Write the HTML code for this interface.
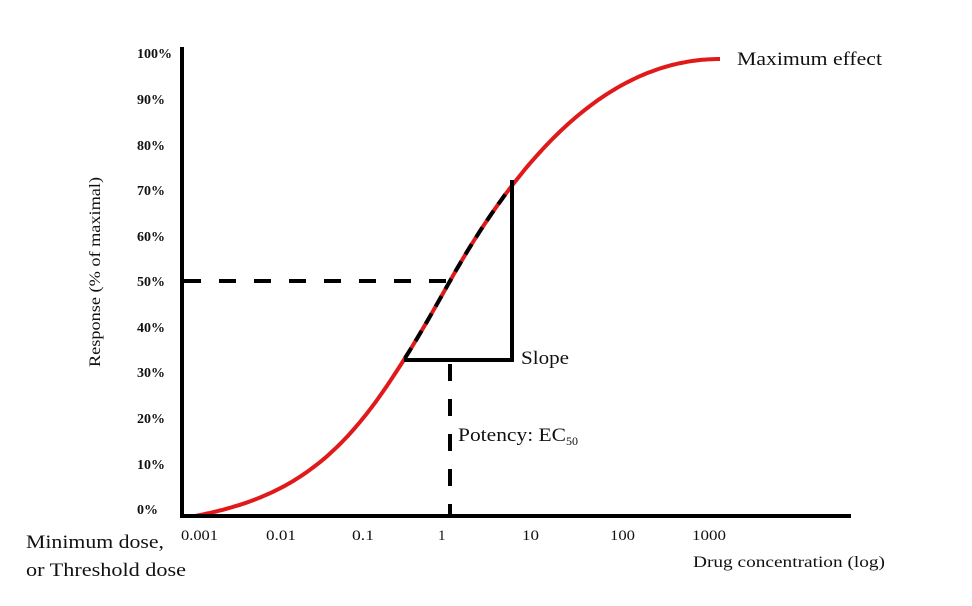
<!DOCTYPE html>
<html><head><style>
body{margin:0;background:#fff;}
svg text{font-family:"Liberation Serif",serif;fill:#111;}
</style></head><body>
<svg width="972" height="601" viewBox="0 0 972 601" xmlns="http://www.w3.org/2000/svg">
<g font-size="14" font-weight="bold" text-anchor="end" fill="#333">
<text x="172" y="58">100%</text>
<text x="165" y="104">90%</text>
<text x="165" y="150">80%</text>
<text x="165" y="195">70%</text>
<text x="165" y="241">60%</text>
<text x="165" y="286">50%</text>
<text x="165" y="332">40%</text>
<text x="165" y="377">30%</text>
<text x="165" y="423">20%</text>
<text x="165" y="469">10%</text>
<text x="158" y="514">0%</text>
</g>
<text transform="translate(100,272) rotate(-90)" font-size="16" text-anchor="middle" textLength="190" lengthAdjust="spacingAndGlyphs">Response (% of maximal)</text>
<g font-size="15">
<text x="181" y="540" textLength="37" lengthAdjust="spacingAndGlyphs">0.001</text>
<text x="266" y="540" textLength="30" lengthAdjust="spacingAndGlyphs">0.01</text>
<text x="352" y="540" textLength="22" lengthAdjust="spacingAndGlyphs">0.1</text>
<text x="438" y="540">1</text>
<text x="522" y="540" textLength="17" lengthAdjust="spacingAndGlyphs">10</text>
<text x="610" y="540" textLength="25" lengthAdjust="spacingAndGlyphs">100</text>
<text x="692" y="540" textLength="34" lengthAdjust="spacingAndGlyphs">1000</text>
</g>
<text x="26" y="548" font-size="19" textLength="138" lengthAdjust="spacingAndGlyphs">Minimum dose,</text>
<text x="26" y="576" font-size="19" textLength="160" lengthAdjust="spacingAndGlyphs">or Threshold dose</text>
<text x="693" y="567" font-size="16" textLength="192" lengthAdjust="spacingAndGlyphs">Drug concentration (log)</text>
<text x="737" y="65" font-size="19" textLength="145" lengthAdjust="spacingAndGlyphs">Maximum effect</text>
<text x="521" y="364" font-size="19" textLength="48" lengthAdjust="spacingAndGlyphs">Slope</text>
<text x="458" y="441" font-size="19"><tspan textLength="108" lengthAdjust="spacingAndGlyphs">Potency: EC</tspan><tspan font-size="12" dy="4">50</tspan></text>
<path id="curve" d="" fill="none" stroke="#e01a1a" stroke-width="4"/>
<path id="dcurve" d="" fill="none" stroke="#000" stroke-width="4" stroke-dasharray="12,8"/>
<line x1="182" y1="47" x2="182" y2="518" stroke="#000" stroke-width="4"/>
<line x1="180" y1="516" x2="851" y2="516" stroke="#000" stroke-width="4"/>
<line x1="184" y1="281" x2="450" y2="281" stroke="#000" stroke-width="4" stroke-dasharray="17,18"/>
<line x1="450" y1="364" x2="450" y2="514" stroke="#000" stroke-width="4" stroke-dasharray="17,18"/>
<polyline points="404,360 512,360 512,180" fill="none" stroke="#000" stroke-width="4"/>
</svg>
<script>
function f(x){
 if(x<=450){var f0=470/(1+Math.exp(-(x-450)/66));var s=Math.min(1,Math.max(0,(x-195)/200));var c=f0-(470/(1+Math.exp(255/66)))*(1-s);return 516-c;}
 var u=(x-450)/270;var h=2.17*u-1.34*u*u+0.17*u*u*u;return 281-222*h;
}
var d="";for(var x=195;x<=720;x+=3){d+=(x==195?"M":"L")+x+","+f(x).toFixed(1)+" ";}
document.getElementById("curve").setAttribute("d",d);
var e="";for(var x=405;x<=510;x+=3){e+=(x==405?"M":"L")+x+","+f(x).toFixed(1)+" ";}
document.getElementById("dcurve").setAttribute("d",e);
</script>
</body></html>
